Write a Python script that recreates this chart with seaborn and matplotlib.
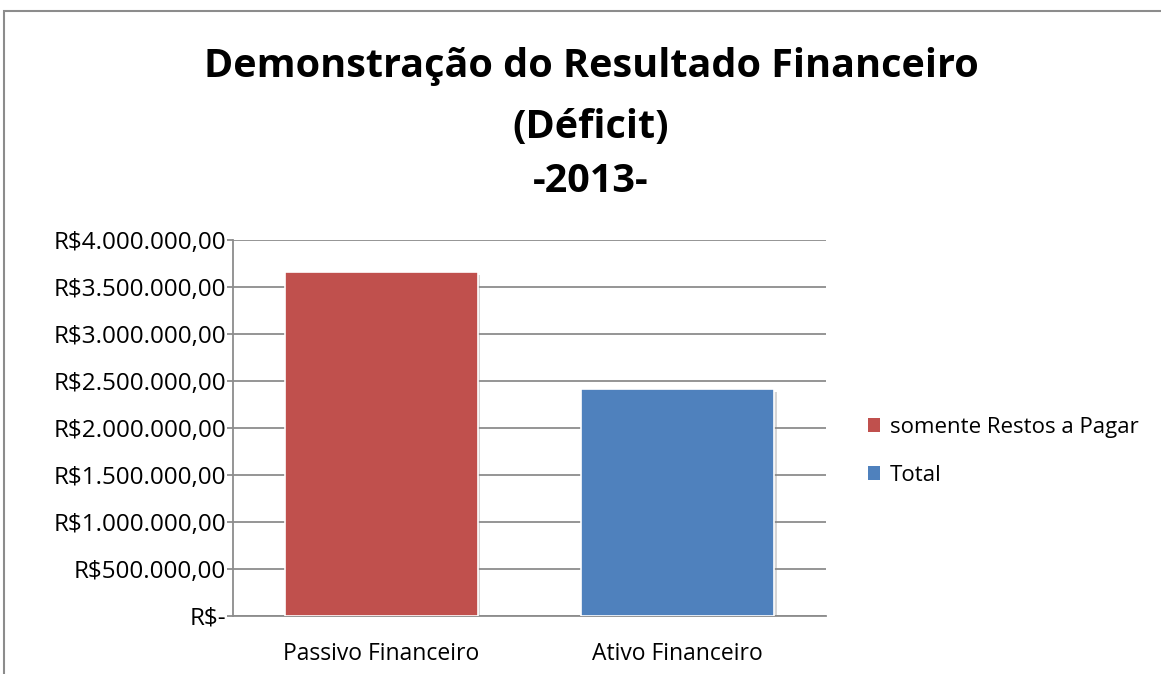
import matplotlib
matplotlib.use("Agg")
import matplotlib.pyplot as plt
import matplotlib.patheffects as pe
from matplotlib.patches import Rectangle
from matplotlib.ticker import FuncFormatter, MultipleLocator
import seaborn as sns
import pandas as pd

categories = ["Passivo Financeiro", "Ativo Financeiro"]
series = ["somente Restos a Pagar", "Total"]
values = [3660000, 2415000]
colors = ["#C0504D", "#4F81BD"]
title_lines = ["Demonstração do Resultado Financeiro", "(Déficit)", "-2013-"]

sns.set_theme(style="white")
plt.rcParams["font.family"] = ["Open Sans", "DejaVu Sans"]
plt.rcParams["text.color"] = "black"

df = pd.DataFrame({"categoria": categories, "serie": series, "valor": values})

fig = plt.figure(figsize=(11.61, 6.74), dpi=100)
ax = fig.add_axes([233 / 1161, 1 - 616 / 674, 593 / 1161, 376 / 674])

sns.barplot(data=df, x="categoria", y="valor", hue="serie", order=categories,
            hue_order=series, palette=colors, dodge=False, width=0.65,
            saturation=1, ax=ax, edgecolor="white", linewidth=1.2, legend=False)

shadow = [pe.SimplePatchShadow(offset=(2, -2), shadow_rgbFace="#888888", alpha=0.35),
          pe.Normal()]
for p in ax.patches:
    p.set_path_effects(shadow)
    p.set_zorder(3)


def brl(v, pos):
    if v == 0:
        return "R$-"
    s = f"{v:,.2f}"
    s = s.replace(",", "X").replace(".", ",").replace("X", ".")
    return "R$" + s


ax.set_ylim(0, 4000000)
ax.yaxis.set_major_locator(MultipleLocator(500000))
ax.yaxis.set_major_formatter(FuncFormatter(brl))
ax.grid(axis="y", color="#8C8C8C", linewidth=1.3, zorder=0)
ax.set_axisbelow(True)
for side in ["top", "right"]:
    ax.spines[side].set_visible(False)
ax.spines["left"].set_color("#8C8C8C")
ax.spines["left"].set_linewidth(1.3)
ax.spines["bottom"].set_color("#8C8C8C")
ax.spines["bottom"].set_linewidth(1.3)
ax.tick_params(axis="y", which="major", left=True, length=4, width=1.3,
               color="#8C8C8C", labelsize=17.5, pad=1, labelcolor="black")
ax.tick_params(axis="x", bottom=False, labelsize=16.5, pad=13, labelcolor="black")
ax.set_xlabel("")
ax.set_ylabel("")

for text, ypix in zip(title_lines, [67, 127, 182]):
    fig.text(591 / 1161, 1 - ypix / 674, text, ha="center", va="center",
             fontsize=28.5, fontweight="bold", color="black")

handles = [Rectangle((0, 0), 1, 1, facecolor=c, edgecolor="none") for c in colors]
fig.legend(handles, series, loc="upper left",
           bbox_to_anchor=(848 / 1161, 1 - 397 / 674), frameon=False,
           fontsize=16, handlelength=0.55, handleheight=0.55, handletextpad=0.45,
           labelspacing=1.2)

fig.add_artist(Rectangle((4 / 1161, -0.05), 1.2, 1 - 11 / 674 + 0.05,
                         transform=fig.transFigure, fill=False,
                         edgecolor="#8C8C8C", linewidth=1.5))

fig.savefig("out.png", dpi=100)
